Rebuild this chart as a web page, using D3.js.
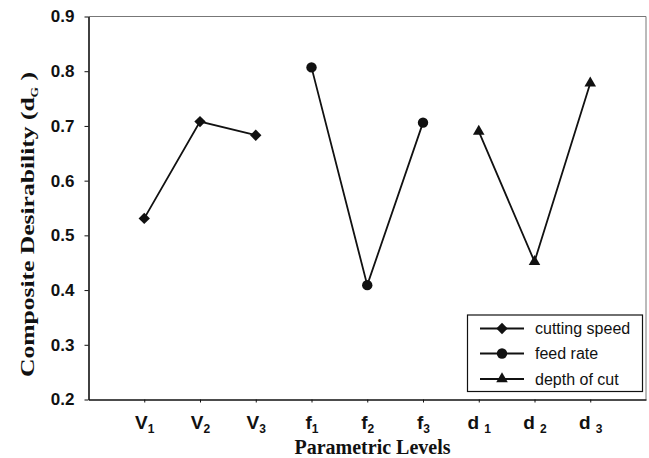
<!DOCTYPE html>
<html><head><meta charset="utf-8">
<script src="https://cdn.jsdelivr.net/npm/d3@7"></script>
<style>body{margin:0;background:#fff}svg{display:block}</style>
</head><body>
<svg id="c" width="649" height="458"></svg>
<script>
const categories = ["V1","V2","V3","f1","f2","f3","d1","d2","d3"];
const tickMain = ["V","V","V","f","f","f","d","d","d"];
const tickSub = ["1","2","3","1","2","3","1","2","3"];
const yTicks = [0.2,0.3,0.4,0.5,0.6,0.7,0.8,0.9];
const cuttingSpeed = [0.531, 0.708, 0.683];
const feedRate = [0.807, 0.409, 0.706];
const depthOfCut = [0.690, 0.452, 0.778];
const seriesNames = ["cutting speed","feed rate","depth of cut"];

const series = [
  {name: seriesNames[0], idx:[0,1,2], vals: cuttingSpeed, sym: d3.symbolSquare, size: 64, rot: 45},
  {name: seriesNames[1], idx:[3,4,5], vals: feedRate, sym: d3.symbolCircle, size: 85, rot: 0},
  {name: seriesNames[2], idx:[6,7,8], vals: depthOfCut, sym: d3.symbolTriangle, size: 58, rot: 0}
];

const L = 88.5, R = 646, T = 16.5, B = 399.5;
const svg = d3.select("#c");
const x = d3.scaleLinear().domain([0, categories.length + 1]).range([L, R]);
const y = d3.scaleLinear().domain([0.2, 0.9]).range([B, T]);

// frame top/right
svg.append("path").attr("d", `M${L},${T}H${R}V${B}`).attr("fill","none").attr("stroke","#777").attr("stroke-width",1);

// y axis
const ya = svg.append("g").attr("transform", `translate(${L},0)`)
  .call(d3.axisLeft(y).tickValues(yTicks).tickSize(4).tickSizeOuter(0).tickFormat(d3.format(".1f")).tickPadding(10));
ya.select(".domain").attr("stroke","#111").attr("stroke-width",1.6);
ya.selectAll(".tick line").attr("stroke","#111");
ya.selectAll(".tick text").attr("font-family","Liberation Sans, Arial, sans-serif").attr("font-weight","bold").attr("font-size",17).attr("fill","#111");

// x axis
const xa = svg.append("g").attr("transform", `translate(0,${B})`)
  .call(d3.axisBottom(x).tickValues(d3.range(1, categories.length + 1)).tickSize(3).tickSizeOuter(0).tickFormat(""));
xa.select(".domain").attr("stroke","#111").attr("stroke-width",1.6);
xa.selectAll(".tick line").attr("stroke","#111");
xa.selectAll(".tick").each(function(d, i) {
  const t = d3.select(this).append("text").attr("y", 29).attr("text-anchor","middle")
    .attr("font-family","Liberation Sans, Arial, sans-serif").attr("font-weight","bold").attr("fill","#111");
  t.append("tspan").attr("font-size",19).text(tickMain[i] + (tickMain[i]==="d" ? " " : ""));
  t.append("tspan").attr("font-size",12).attr("dy",4).text(tickSub[i]);
});

// axis titles
svg.append("text").attr("x", 372.5).attr("y", 454).attr("text-anchor","middle")
  .attr("font-family","Liberation Serif, Times New Roman, serif").attr("font-weight","bold").attr("font-size",20).attr("fill","#111")
  .text("Parametric Levels");
const yt = svg.append("text").attr("transform","translate(34,224.5) rotate(-90)").attr("text-anchor","middle")
  .attr("font-family","Liberation Serif, Times New Roman, serif").attr("font-weight","bold").attr("font-size",19).attr("fill","#111")
  .attr("textLength", 305).attr("lengthAdjust","spacingAndGlyphs");
yt.append("tspan").text("Composite Desirability (d");
yt.append("tspan").attr("font-size",10).attr("dy",4).text("G");
yt.append("tspan").attr("dy",-4).text(" )");

// series
const line = d3.line().x(d => x(d[0] + 1)).y(d => y(d[1]));
series.forEach(s => {
  const pts = s.idx.map((k, j) => [k, s.vals[j]]);
  svg.append("path").attr("d", line(pts)).attr("fill","none").attr("stroke","#111").attr("stroke-width",1.8);
  svg.selectAll(null).data(pts).join("path")
    .attr("transform", d => `translate(${x(d[0]+1)},${y(d[1])}) rotate(${s.rot})`)
    .attr("d", d3.symbol().type(s.sym).size(s.size)).attr("fill","#111");
});

// legend
const lg = svg.append("g");
lg.append("rect").attr("x",467.5).attr("y",315).attr("width",175).attr("height",76.5).attr("fill","#fff").attr("stroke","#111").attr("stroke-width",1.2);
const rowsY = [328.5, 353.5, 379];
series.forEach((s, i) => {
  lg.append("line").attr("x1",480).attr("x2",524).attr("y1",rowsY[i]).attr("y2",rowsY[i]).attr("stroke","#111").attr("stroke-width",1.8);
  lg.append("path").attr("transform",`translate(502,${rowsY[i]}) rotate(${s.rot})`).attr("d", d3.symbol().type(s.sym).size(s.size)).attr("fill","#111");
  lg.append("text").attr("x",535).attr("y",rowsY[i]).attr("dy","0.35em")
    .attr("font-family","Liberation Sans, Arial, sans-serif").attr("font-size",16).attr("fill","#111").text(s.name);
});
</script>
</body></html>
